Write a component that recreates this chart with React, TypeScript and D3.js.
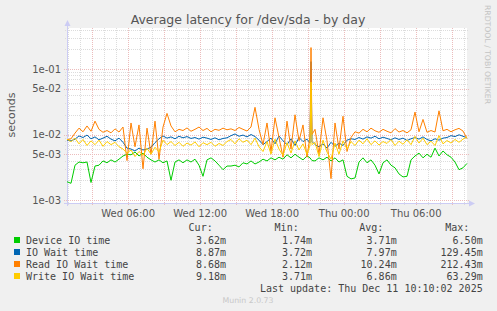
import * as d3 from "d3";

// Munin "diskstats latency" day graph, values in milliseconds.
// Samples every 20 minutes, plus two extra 5-minute samples around the spike.
const deviceIO = [
  1.9, 1.8, 3.4, 3.8, 3.7, 3.8, 1.85, 3.3, 3.4, 3.95,
  3.7, 4.1, 3.8, 4.2, 4.7, 5.0, 4.9, 5.4, 4.7, 5.2,
  4.5, 4.1, 3.8, 4.1, 3.7, 3.95, 2.0, 3.8, 4.1, 3.7,
  4.1, 3.8, 4.2, 3.4, 2.3, 4.1, 4.4, 3.95, 3.4, 2.9,
  3.3, 3.3, 3.4, 3.2, 3.7, 3.55, 3.95, 3.55, 3.8, 4.2,
  3.95, 4.4, 4.1, 4.5, 4.2, 4.9, 4.4, 5.0, 4.5, 4.1,
  4.7, 4.4, 4.2, 4.0, 3.95, 4.4, 4.1, 4.5, 3.95, 4.4, 3.8, 4.1,
  2.3, 2.1, 2.17, 3.8, 4.4, 3.7, 4.1, 3.4, 2.5, 3.7,
  4.1, 3.4, 3.1, 2.5, 2.25, 2.3, 4.1, 4.7, 5.2, 4.4,
  5.0, 4.5, 6.2, 4.7, 5.6, 4.9, 4.5, 3.8, 2.9, 3.1,
  3.62,
];
const ioWait = [
  8.2, 8.0, 8.5, 9.5, 9.0, 9.8, 8.6, 9.2, 8.3, 8.8,
  9.4, 8.5, 8.0, 8.8, 7.6, 6.2, 6.0, 5.6, 6.2, 5.8,
  6.0, 6.4, 7.5, 8.6, 9.5, 8.8, 9.2, 8.6, 9.4, 8.9,
  9.3, 8.7, 9.0, 8.5, 9.1, 8.8, 8.4, 8.9, 8.3, 8.7,
  8.9, 9.6, 10.2, 9.4, 9.8, 9.2, 10.0, 9.3, 8.2, 7.0,
  7.8, 8.8, 7.2, 9.5, 8.0, 7.0, 8.6, 6.8, 9.0, 7.8,
  8.5, 7.4, 129.45, 7.8, 7.0, 6.5, 7.2, 6.2, 7.6, 6.6, 7.4, 6.8,
  8.2, 8.6, 8.4, 9.0, 8.5, 9.2, 8.8, 9.4, 8.6, 9.1,
  8.7, 8.3, 8.9, 8.4, 8.8, 8.1, 8.6, 9.0, 8.5, 9.2,
  8.4, 8.0, 8.6, 8.2, 8.8, 9.0, 9.6, 9.3, 9.9, 9.4,
  8.87,
];
const readIOWait = [
  8.3, 8.6, 10.5, 12.5, 11.0, 13.5, 11.2, 16.0, 12.0, 10.8,
  11.5, 10.6, 12.2, 10.9, 13.0, 4.0, 15.0, 6.5, 14.0, 3.0,
  12.5, 5.0, 16.0, 4.2, 13.0, 21.0, 13.5, 11.0, 12.0, 11.5,
  12.6, 11.2, 12.0, 13.0, 11.5, 12.4, 11.0, 12.0, 11.6, 12.5,
  11.8, 12.2, 11.5, 12.8, 12.0, 11.3, 13.0, 26.0, 12.0, 7.0,
  15.0, 5.5, 18.0, 9.0, 4.5, 16.0, 6.0, 20.0, 8.0, 14.0,
  4.5, 9.5, 212.43, 10.0, 12.0, 5.0, 18.0, 8.0, 2.12, 15.0, 6.0, 19.0,
  5.5, 9.0, 11.0, 10.5, 12.0, 11.0, 12.5, 11.4, 10.8, 12.0,
  11.2, 10.6, 12.3, 10.9, 11.5, 10.6, 11.8, 22.0, 11.0, 17.0,
  10.8, 11.5, 10.9, 23.0, 11.4, 12.0, 11.0, 11.8, 12.4, 11.3,
  8.68,
];
const writeIOWait = [
  8.5, 7.8, 8.8, 7.2, 8.4, 6.8, 8.0, 7.0, 8.2, 6.6,
  7.8, 7.0, 7.6, 6.5, 6.0, 5.2, 5.8, 4.6, 5.5, 4.8,
  6.2, 5.0, 6.4, 5.4, 8.2, 7.0, 7.8, 6.8, 7.6, 6.6,
  7.4, 6.9, 7.7, 6.5, 7.5, 7.0, 7.6, 6.6, 7.3, 6.8,
  7.8, 8.4, 7.2, 8.6, 7.6, 8.2, 7.0, 8.8, 6.5, 5.5,
  7.8, 5.0, 8.5, 6.0, 4.8, 7.5, 5.2, 8.0, 5.8, 7.2,
  5.0, 6.8, 63.29, 7.0, 7.6, 4.6, 8.2, 5.4, 4.2, 7.4, 5.0, 8.0,
  6.0, 7.8, 6.8, 8.2, 7.2, 8.6, 7.0, 8.0, 6.9, 7.8,
  7.3, 8.4, 6.8, 7.9, 7.1, 8.3, 7.0, 9.4, 7.4, 8.8,
  7.0, 7.9, 6.8, 9.6, 7.2, 8.1, 7.4, 8.4, 7.6, 8.5,
  9.18,
];
// extra samples (minutes after the first one) either side of the spike at 20:20
const extraMinutes = [1215, 1225];

const seriesNames = ["Device IO time", "IO Wait time", "Read IO Wait time", "Write IO Wait time"];
const seriesColors = ["#00cc00", "#0066b3", "#ff8000", "#ffcc00"];
const curValues = ["3.62m", "8.87m", "8.68m", "9.18m"];
const minValues = ["1.74m", "3.72m", "2.12m", "3.71m"];
const avgValues = ["3.71m", "7.97m", "10.24m", "6.86m"];
const maxValues = ["6.50m", "129.45m", "212.43m", "63.29m"];
const yMajorTicks = [0.001, 0.005, 0.01, 0.05, 0.1];

const W = 497;
const H = 311;
const plot = { left: 67, right: 467, top: 28, bottom: 203 };
const sans = "'DejaVu Sans', sans-serif";
const mono = "'DejaVu Sans Mono', monospace";

const fmtExp = (v: number) => {
  const [m, e] = v.toExponential(0).split("e");
  const n = parseInt(e, 10);
  return `${m}e${n < 0 ? "-" : "+"}${String(Math.abs(n)).padStart(2, "0")}`;
};

export default function App() {
  const start = new Date(2025, 11, 10, 0, 54);
  const end = new Date(2025, 11, 11, 10, 14);
  const x = d3.scaleTime().domain([start, end]).range([plot.left, plot.right]);
  const y = d3.scaleLog().domain([9e-4, 0.4227]).range([plot.bottom, plot.top]);

  const minutes = d3.range(0, 2001, 20).concat(extraMinutes).sort((a, b) => a - b);
  const times = minutes.map((m) => d3.timeMinute.offset(start, m));
  const line = d3
    .line<number>()
    .x((_, i) => x(times[i]))
    .y((d) => y(d / 1000));

  const series = [deviceIO, ioWait, readIOWait, writeIOWait];

  // minor log grid: 2..9 per decade, except the labelled 5
  const yMinor: number[] = [];
  for (let k = -4; k <= -1; k++) {
    for (let m = 2; m <= 9; m++) {
      const v = m * Math.pow(10, k);
      if (m !== 5 && v >= 9e-4 && v <= 0.4227) yMinor.push(v);
    }
  }
  const hours = d3.timeHour.range(d3.timeHour.ceil(start), end);
  const xMinor = hours.filter((d) => d.getHours() % 3 !== 0);
  const xMajor = hours.filter((d) => d.getHours() % 3 === 0);
  const xLabels = hours.filter((d) => d.getHours() % 6 === 0);
  const fmtX = d3.timeFormat("%a %H:%M");

  const colRight = [226, 312, 396.7, 482.7];
  const cols = [curValues, minValues, avgValues, maxValues];
  const headers = ["Cur:", "Min:", "Avg:", "Max:"];

  return (
    <svg
      width={W}
      height={H}
      style={{ position: "absolute", left: 0, top: 0 }}
    >
      <rect width={W} height={H} fill="#f0f0f0" />
      <rect
        x={plot.left}
        y={plot.top}
        width={plot.right - plot.left}
        height={plot.bottom - plot.top}
        fill="#ffffff"
      />

      <text x={248} y={24} textAnchor="middle" fontFamily={sans} fontSize={12.5} fill="#555">
        Average latency for /dev/sda - by day
      </text>

      {/* grid */}
      <g strokeDasharray="1,1" strokeWidth={1} shapeRendering="crispEdges">
        {yMinor.map((v) => (
          <line key={`ym${v}`} x1={plot.left - 2} x2={plot.right + 2} y1={Math.round(y(v)) + 0.5} y2={Math.round(y(v)) + 0.5} stroke="#dcdcdc" />
        ))}
        {xMinor.map((d) => (
          <line key={`xm${+d}`} x1={Math.round(x(d)) + 0.5} x2={Math.round(x(d)) + 0.5} y1={plot.top} y2={plot.bottom + 2} stroke="#dcdcdc" />
        ))}
        {yMajorTicks.map((v) => (
          <line key={`yM${v}`} x1={plot.left - 3} x2={plot.right + 3} y1={Math.round(y(v)) + 0.5} y2={Math.round(y(v)) + 0.5} stroke="#ecbcbc" />
        ))}
        {xMajor.map((d) => (
          <line key={`xM${+d}`} x1={Math.round(x(d)) + 0.5} x2={Math.round(x(d)) + 0.5} y1={plot.top} y2={plot.bottom + 3} stroke="#ecbcbc" />
        ))}
      </g>

      {/* axes */}
      <g stroke="#ccccf4" fill="#ccccf4" shapeRendering="crispEdges">
        <line x1={plot.left + 0.5} x2={plot.left + 0.5} y1={plot.bottom + 3} y2={plot.top - 5} />
        <line x1={plot.left - 3} x2={plot.right + 3} y1={plot.bottom + 0.5} y2={plot.bottom + 0.5} />
      </g>
      <path d={`M${plot.left - 2.5},${plot.top - 2} L${plot.left + 0.5},${plot.top - 8} L${plot.left + 3.5},${plot.top - 2} Z`} fill="#ccccf4" />
      <path d={`M${plot.right + 2},${plot.bottom - 2.5} L${plot.right + 8},${plot.bottom + 0.5} L${plot.right + 2},${plot.bottom + 3.5} Z`} fill="#ccccf4" />

      {/* y tick labels */}
      {yMajorTicks.map((v) => (
        <text key={`yl${v}`} x={61} y={y(v) + 3.6} textAnchor="end" fontFamily={sans} fontSize={10} fill="#555">
          {fmtExp(v)}
        </text>
      ))}
      <text transform="translate(15,115) rotate(-90)" textAnchor="middle" fontFamily={sans} fontSize={11} fill="#555">
        seconds
      </text>

      {/* x tick labels */}
      {xLabels.map((d) => (
        <text key={`xl${+d}`} x={x(d)} y={216.5} textAnchor="middle" fontFamily={sans} fontSize={10} fill="#555">
          {fmtX(d)}
        </text>
      ))}

      {/* series */}
      <g fill="none" strokeWidth={1} strokeLinejoin="round">
        {series.map((s, i) => (
          <path key={seriesNames[i]} d={line(s) ?? ""} stroke={seriesColors[i]} />
        ))}
      </g>

      <text transform="translate(485,5) rotate(90)" fontFamily={sans} fontSize={7.7} fill="#c4c4c4">
        RRDTOOL / TOBI OETIKER
      </text>

      {/* legend */}
      <g fontFamily={mono} fontSize={10} fill="#444">
        {headers.map((h, j) => (
          <text key={h} x={colRight[j] - 13.3} y={230.5} textAnchor="end">
            {h}
          </text>
        ))}
        {seriesNames.map((name, i) => {
          const base = 243.5 + i * 12;
          return (
            <g key={name}>
              <rect x={14} y={base - 6.5} width={6} height={6} fill={seriesColors[i]} />
              <text x={26} y={base}>{name}</text>
              {cols.map((c, j) => (
                <text key={j} x={colRight[j]} y={base} textAnchor="end">
                  {c[i]}
                </text>
              ))}
            </g>
          );
        })}
        <text x={482.7} y={291.5} textAnchor="end">
          Last update: Thu Dec 11 10:10:02 2025
        </text>
      </g>
      <text x={248} y={303} textAnchor="middle" fontFamily={sans} fontSize={7.8} fill="#c8c8c8">
        Munin 2.0.73
      </text>
    </svg>
  );
}
